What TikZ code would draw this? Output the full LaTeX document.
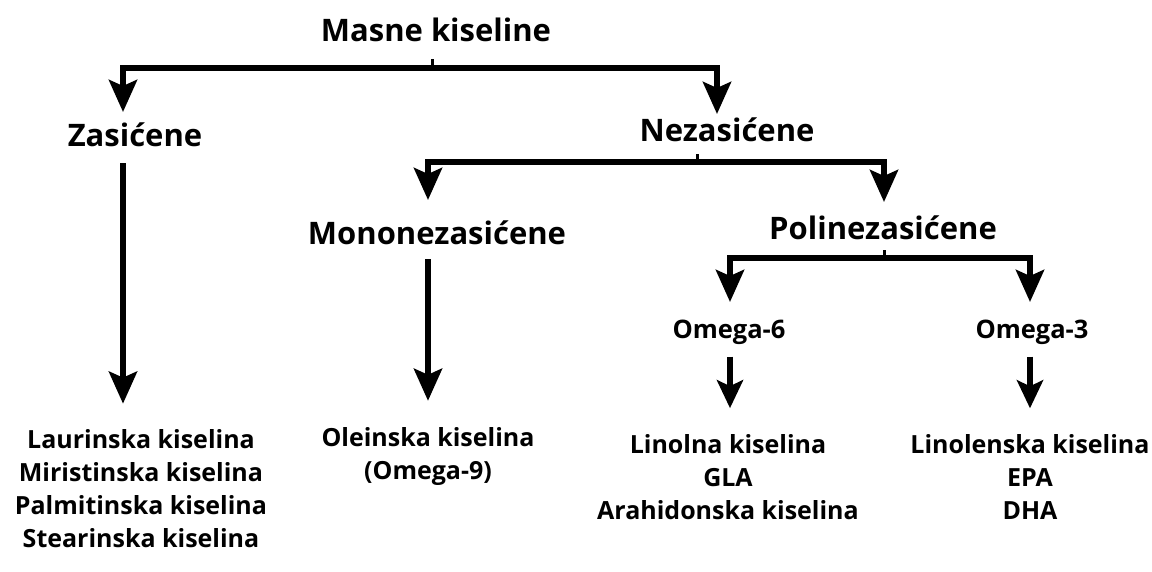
\documentclass[tikz,border=0pt]{standalone}
\usepackage{fontspec}
\setmainfont{Open Sans}
\usetikzlibrary{arrows.meta}
\begin{document}
\begin{tikzpicture}[x=1pt,y=-1pt,
  big/.style={font=\bfseries\fontsize{31}{36}\selectfont, inner sep=0pt},
  mid/.style={font=\bfseries\fontsize{25.5}{28}\selectfont, inner sep=0pt},
  small/.style={font=\bfseries\fontsize{25}{33}\selectfont, align=center, inner sep=0pt},
  conn/.style={line width=6pt},
  tick/.style={line width=3pt},
  arr/.style={conn, -{Stealth[length=32pt,width=28pt,inset=6pt]}},
  sarr/.style={conn, -{Stealth[length=28pt,width=26pt,inset=6pt]}},
  ]
\fill[white] (0,0) rectangle (1152,571);
% nodes
\node[big] (masne) at (436,30) {Masne kiseline};
\node[big] (zas) at (135,135) {Zasićene};
\node[big] (nez) at (727,130) {Nezasićene};
\node[big] (mono) at (437,233) {Mononezasićene};
\node[big] (poli) at (883,228) {Polinezasićene};
\node[mid] (o6) at (729,332) {Omega-6};
\node[mid] (o3) at (1032,332) {Omega-3};
\node[small] (zaslist) at (141,489) {Laurinska kiselina\\Miristinska kiselina\\Palmitinska kiselina\\Stearinska kiselina};
\node[small] (monolist) at (428,456) {Oleinska kiselina\\(Omega-9)};
\node[small] (o6list) at (728,477) {Linolna kiselina\\GLA\\Arahidonska kiselina};
\node[small] (o3list) at (1030,477) {Linolenska kiselina\\EPA\\DHA};
% junction coordinates
\coordinate (j1) at (432,68);
\coordinate (j1l) at (123,112);
\coordinate (j1r) at (717,114);
\coordinate (j2) at (697,162);
\coordinate (j2l) at (428,200);
\coordinate (j2r) at (884,202);
\coordinate (j3) at (884,258);
\coordinate (j3l) at (730,302);
\coordinate (j3r) at (1030,302);
% top branch
\draw[tick] (j1) -- ++(0,-9);
\draw[arr] (j1) -| (j1l);
\draw[arr] (j1) -| (j1r);
% unsaturated branch
\draw[tick] (j2) -- ++(0,-8);
\draw[arr] (j2) -| (j2l);
\draw[arr] (j2) -| (j2r);
% poly branch
\draw[tick] (j3) -- ++(0,-8);
\draw[arr] (j3) -| (j3l);
\draw[arr] (j3) -| (j3r);
% long arrows
\draw[arr] ([yshift=-16pt]zas.south -| j1l) -- ([yshift=26pt]zaslist.north -| j1l);
\draw[arr] ([yshift=-14pt]mono.south -| j2l) -- ([yshift=26pt]monolist.north -| j2l);
\draw[sarr] ([yshift=-12pt]o6.south -| j3l) -- ([yshift=26pt]o6list.north -| j3l);
\draw[sarr] ([yshift=-12pt]o3.south -| j3r) -- ([yshift=26pt]o3list.north -| j3r);
\end{tikzpicture}
\end{document}
